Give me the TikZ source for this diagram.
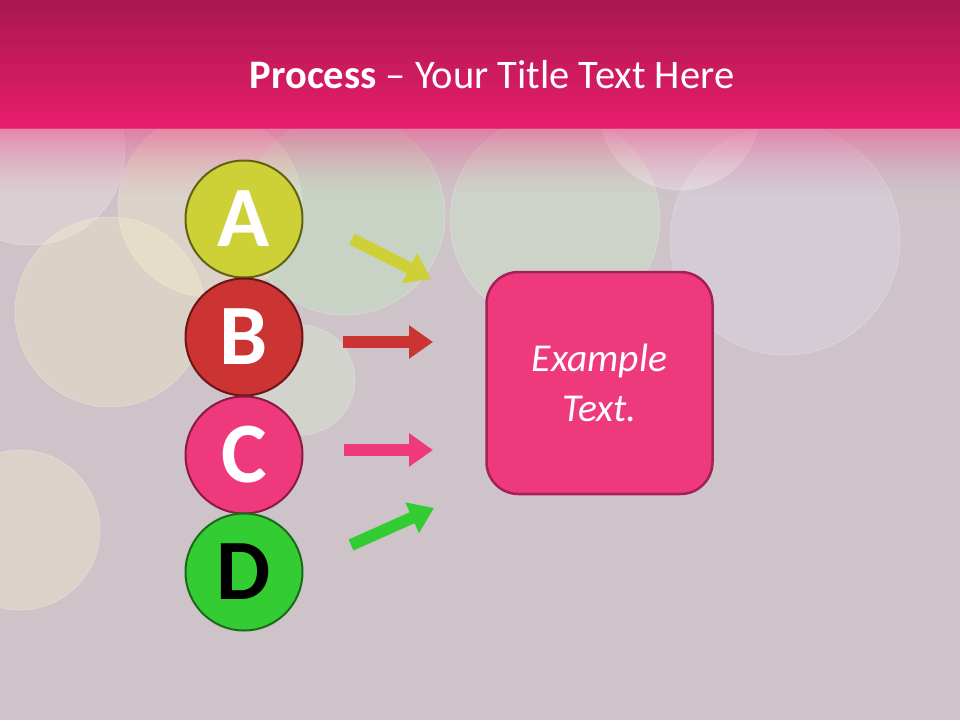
\documentclass[tikz,border=0pt]{standalone}
\usepackage{fontspec}
\setmainfont{Carlito}
\usetikzlibrary{arrows.meta}
\definecolor{bgbase}{HTML}{CEC3C8}
\definecolor{hdtop}{HTML}{A8174D}
\definecolor{hdbot}{HTML}{E91E6C}
\definecolor{ayel}{HTML}{CDD037}
\definecolor{ayelb}{HTML}{626214}
\definecolor{bred}{HTML}{CC3333}
\definecolor{bredb}{HTML}{6B1515}
\definecolor{cpink}{HTML}{EE3A7C}
\definecolor{cpinkb}{HTML}{8B1A40}
\definecolor{dgrn}{HTML}{33CC33}
\definecolor{dgrnb}{HTML}{1A6B1A}
\definecolor{boxb}{HTML}{A32058}
\tikzset{
  letter/.style={circle, minimum size=117pt, inner sep=0pt, line width=2pt,
    font=\fontsize{86}{86}\selectfont\bfseries, text=white},
  flowarrow/.style={line width=12pt, -{Triangle[width=32pt,length=24pt]}},
  bokeh/.style={fill=#1, fill opacity=0.28, draw=white, draw opacity=0.2, line width=1pt}
}
\begin{document}
\begin{tikzpicture}[x=1pt,y=-1pt]
\useasboundingbox (0,0) rectangle (960,720);
% background
\fill[bgbase] (0,0) rectangle (960,720);
% bokeh circles
\fill[bokeh={white!70!pink}] (30,150) circle (95);
\fill[bokeh={yellow!20!white}] (210,205) circle (92);
\fill[bokeh={yellow!22!white}] (110,312) circle (95);
\fill[bokeh={green!25!white}] (345,215) circle (100);
\fill[bokeh={green!18!white}] (555,220) circle (105);
\fill[bokeh={cyan!15!blue!10!white}] (785,240) circle (115);
\fill[bokeh={green!15!white}] (300,380) circle (55);
\fill[bokeh={yellow!18!white}] (20,530) circle (80);
\fill[bokeh={white}] (680,110) circle (80);
% header
\shade[top color=hdtop, bottom color=hdbot] (0,0) rectangle (960,128);
\foreach \i in {0,...,34} {
  \pgfmathsetmacro{\op}{0.55*(1-\i/35)^1.6}
  \fill[hdbot!80!white, fill opacity=\op] (0,128+2*\i) rectangle (960,130.2+2*\i);
}
\node[text=white, font=\fontsize{40.5}{46}\selectfont] (title) at (492,75)
  {\textbf{Process} -- Your Title Text Here};
% circles
\node[letter, fill=ayel, draw=ayelb] (A) at (244,219) {A};
\node[letter, fill=bred, draw=bredb] (B) at (244,337) {B};
\node[letter, fill=cpink, draw=cpinkb] (C) at (244,455) {C};
\node[letter, fill=dgrn, draw=dgrnb, text=black] (D) at (244,572) {D};
% target box
\node[draw=boxb, fill=cpink, line width=2.5pt, rounded corners=32pt,
  minimum width=226pt, minimum height=222pt, align=center, text=white,
  font=\fontsize{39.5}{50}\selectfont\itshape] (box) at (599.5,383) {Example\\Text.};
% arrows
\coordinate (a1) at (352,239); \coordinate (a2) at (431,279);
\coordinate (b1) at (343,342); \coordinate (b2) at (433,342);
\coordinate (c1) at (344,450); \coordinate (c2) at (433,450);
\coordinate (d1) at (351,545); \coordinate (d2) at (434,508);
\draw[flowarrow, draw=ayel] (a1) -- (a2);
\draw[flowarrow, draw=bred] (b1) -- (b2);
\draw[flowarrow, draw=cpink] (c1) -- (c2);
\draw[flowarrow, draw=dgrn] (d1) -- (d2);
\end{tikzpicture}
\end{document}
